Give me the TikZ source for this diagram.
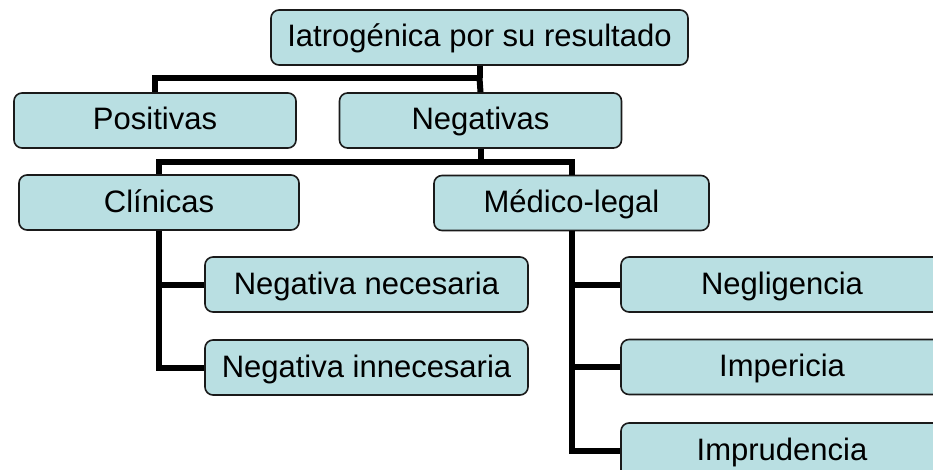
\documentclass[tikz,border=0pt]{standalone}
\usepackage{fontspec}
\setmainfont{Liberation Sans}
\definecolor{boxfill}{HTML}{B9DFE2}
\definecolor{boxline}{HTML}{1A1A1A}
\begin{document}
\begin{tikzpicture}[x=1pt,y=-1pt,
  box/.style={draw=boxline,line width=1.6pt,fill=boxfill,rounded corners=8pt,
    inner sep=0pt,minimum height=55pt,text height=23pt,text depth=4pt,
    font=\fontsize{31}{37}\selectfont},
  conn/.style={line width=6pt,black}]
\useasboundingbox (0,0) rectangle (933,470);
\clip (0,0) rectangle (933,470);
\node[box,minimum width=417pt] (top) at (479.5,37.5) {Iatrogénica por su resultado};
\node[box,minimum width=282pt] (pos) at (155,120.5) {Positivas};
\node[box,minimum width=282pt] (neg) at (480.5,120.5) {Negativas};
\node[box,minimum width=280pt] (cli) at (159,202.5) {Clínicas};
\node[box,minimum width=275pt] (med) at (571.5,203) {Médico-legal};
\node[box,minimum width=323pt] (nn) at (366.5,284.5) {Negativa necesaria};
\node[box,minimum width=323pt] (ni) at (366.5,367.5) {Negativa innecesaria};
\node[box,minimum width=322pt] (negl) at (782,284.5) {Negligencia};
\node[box,minimum width=322pt] (imp) at (782,367) {Impericia};
\node[box,minimum width=322pt] (impr) at (782,450.5) {Imprudencia};
\coordinate (j1) at (479.5,78);
\coordinate (j2) at (480.5,162);
\draw[conn] (top.south) -- (j1);
\draw[conn] (j1) -- (neg.north);
\draw[conn] (j1) -| (pos.north);
\draw[conn] (neg.south) -- (j2);
\draw[conn] (j2) -| (cli.north);
\draw[conn] (j2) -| (med.north);
\draw[conn] (cli.south) |- (ni.west);
\draw[conn] (cli.south |- nn.west) -- (nn.west);
\draw[conn] (med.south) |- (impr.west);
\draw[conn] (med.south |- negl.west) -- (negl.west);
\draw[conn] (med.south |- imp.west) -- (imp.west);
\end{tikzpicture}
\end{document}
